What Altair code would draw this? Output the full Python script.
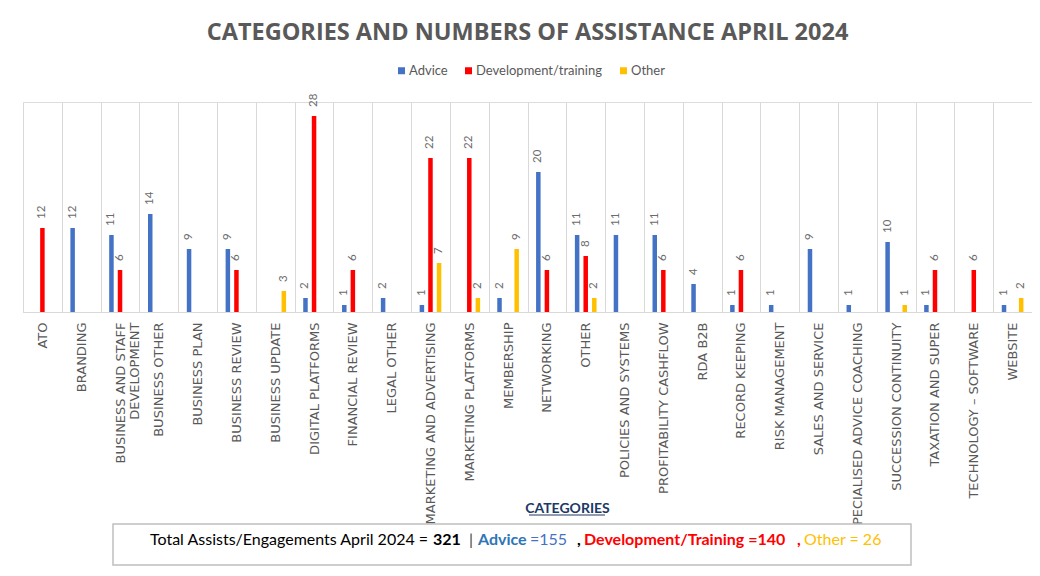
import altair as alt
import pandas as pd

categories = [
    "ATO", "BRANDING", "BUSINESS AND STAFF DEVELOPMENT", "BUSINESS OTHER",
    "BUSINESS PLAN", "BUSINESS REVIEW", "BUSINESS UPDATE", "DIGITAL PLATFORMS",
    "FINANCIAL REVIEW", "LEGAL OTHER", "MARKETING AND ADVERTISING",
    "MARKETING PLATFORMS", "MEMBERSHIP", "NETWORKING", "OTHER",
    "POLICIES AND SYSTEMS", "PROFITABILITY CASHFLOW", "RDA B2B",
    "RECORD KEEPING", "RISK MANAGEMENT", "SALES AND SERVICE",
    "SPECIALISED ADVICE COACHING", "SUCCESSION CONTINUITY",
    "TAXATION AND SUPER", "TECHNOLOGY – SOFTWARE", "WEBSITE",
]
advice = [None, 12, 11, 14, 9, 9, None, 2, 1, 2, 1, None, 2, 20, 11, 11, 11,
          4, 1, 1, 9, 1, 10, 1, None, 1]
development = [12, None, 6, None, None, 6, None, 28, 6, None, 22, 22, None, 6,
               8, None, 6, None, 6, None, None, None, None, 6, 6, None]
other = [None, None, None, None, None, None, 3, None, None, None, 7, 2, 9,
         None, 2, None, None, None, None, None, None, None, 1, None, None, 2]

series = ["Advice", "Development/training", "Other"]
series_colors = ["#4472C4", "#FF0000", "#FFC000"]

title_text = "CATEGORIES AND NUMBERS OF ASSISTANCE APRIL 2024"
axis_title = "CATEGORIES"
summary_parts = [
    "Total Assists/Engagements April 2024 = ", "321", "|", "Advice", "=155",
    ",", "Development/Training =140", ",", "Other = 26",
]

rows = []
for name, vals in zip(series, [advice, development, other]):
    for cat, v in zip(categories, vals):
        if v is not None:
            rows.append({"category": cat, "series": name, "value": v})
df = pd.DataFrame(rows)

# ---- layout / style (not data) ----
W, H = 1009, 210
summary_style = [  # (x, color, weight)
    (127, "#000000", "normal"),
    (410, "#000000", "bold"),
    (446, "#404040", "normal"),
    (455, "#2E75B6", "bold"),
    (507, "#4472C4", "normal"),
    (554, "#000000", "bold"),
    (561, "#FF0000", "bold"),
    (774, "#FF0000", "bold"),
    (781, "#FFC000", "normal"),
]

x_enc = alt.X(
    "category:N",
    sort=categories,
    scale=alt.Scale(domain=categories, paddingInner=0, paddingOuter=0),
    axis=alt.Axis(
        title=axis_title,
        titleFont="Lato", titleFontSize=14, titleFontWeight="bold",
        titleColor="#203864", titleX=544, titleY=200,
        titleAlign="center", titleBaseline="alphabetic", titleAnchor="start",
        labelAngle=-90, labelAlign="right", labelBaseline="middle",
        labelPadding=10, labelFont="DejaVu Sans", labelFontSize=13,
        labelColor="#595959", labelLimit=0, labelLineHeight=14,
        labelExpr="datum.value == 'BUSINESS AND STAFF DEVELOPMENT' ? ['BUSINESS AND STAFF', 'DEVELOPMENT'] : datum.label",
        tickBand="extent", ticks=False, grid=True, gridColor="#D9D9D9",
        gridWidth=1, domainColor="#D9D9D9", domainWidth=1,
    ),
)
xo_enc = alt.XOffset(
    "series:N", sort=series,
    scale=alt.Scale(domain=series, paddingInner=0.475, paddingOuter=1),
)
y_enc = alt.Y("value:Q", scale=alt.Scale(domain=[0, 30]), axis=None)

bars = alt.Chart(df).mark_bar().encode(
    x=x_enc, xOffset=xo_enc, y=y_enc,
    color=alt.Color(
        "series:N", sort=series,
        scale=alt.Scale(domain=series, range=series_colors),
        legend=alt.Legend(
            orient="none", legendX=372, legendY=-38, direction="horizontal",
            title=None, symbolType="square", symbolSize=49,
            symbolStrokeWidth=0, labelFont="Lato", labelFontSize=13,
            labelColor="#595959", columnPadding=14, labelOffset=1,
        ),
    ),
)

labels = alt.Chart(df).mark_text(
    angle=270, align="left", baseline="middle", dx=9,
    font="Lato", fontSize=11.5, color="#6B6B6B",
).encode(x=x_enc, xOffset=xo_enc, y=y_enc, text="value:Q")

one = pd.DataFrame({"k": [0]})
box = alt.Chart(one).mark_rect(
    fill="white", stroke="#BFBFBF", strokeWidth=1.5
).encode(x=alt.value(90), x2=alt.value(888), y=alt.value(422), y2=alt.value(463))

segments = []
for txt, (px, col, wt) in zip(summary_parts, summary_style):
    segments.append(
        alt.Chart(one).mark_text(
            text=txt, align="left", baseline="alphabetic", font="Lato",
            fontSize=16, fontWeight=wt, color=col,
        ).encode(x=alt.value(px), y=alt.value(443))
    )

underline = alt.Chart(one).mark_rule(color="#203864", strokeWidth=1.2).encode(
    x=alt.value(506), x2=alt.value(582), y=alt.value(413)
)

chart = alt.layer(bars, labels, box, *segments, underline).properties(
    width=W, height=H,
    title=alt.TitleParams(
        text=title_text, font="Open Sans", fontSize=23.5, fontWeight="bold",
        color="#595959", anchor="middle", offset=20,
    ),
    autosize=alt.AutoSizeParams(type="none"),
    padding={"left": 15, "top": 94, "right": 0, "bottom": 256},
).configure_view(stroke=None).configure(background="white")

chart.save("out.html", embed_options={"renderer": "svg", "actions": False})
